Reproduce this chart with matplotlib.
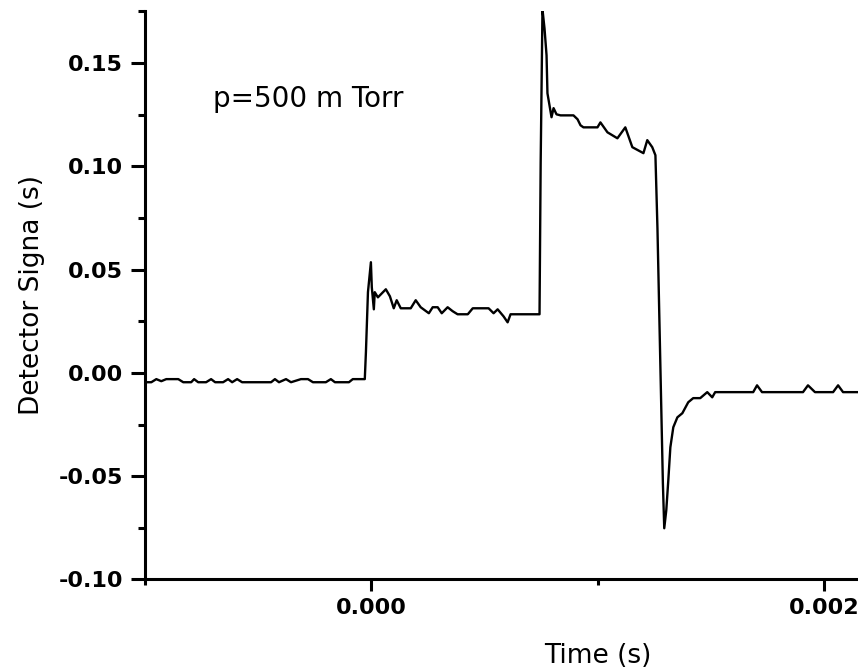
import matplotlib
matplotlib.use("Agg")
import matplotlib.pyplot as plt
import numpy as np
from matplotlib.ticker import FormatStrFormatter, MultipleLocator

# detector trace (time in ms, signal in arbitrary units)
time_ms = [
    -0.995, -0.972, -0.950, -0.928, -0.906, -0.853, -0.831, -0.796, -0.783, -0.765,
    -0.730, -0.708, -0.690, -0.655, -0.633, -0.615, -0.593, -0.571, -0.443, -0.426,
    -0.408, -0.377, -0.355, -0.311, -0.280, -0.258, -0.201, -0.179, -0.161, -0.099,
    -0.082, -0.029,
    -0.024, -0.015, -0.002, 0.002, 0.011, 0.015, 0.029, 0.064, 0.082, 0.099,
    0.112, 0.130, 0.174, 0.196, 0.218, 0.254, 0.271, 0.293, 0.311, 0.337,
    0.359, 0.381, 0.426, 0.448, 0.518, 0.540, 0.558, 0.584, 0.602, 0.615,
    0.743,
    0.748, 0.756, 0.765, 0.774, 0.778, 0.796, 0.805, 0.818, 0.836, 0.893,
    0.911, 0.924, 0.937, 0.999, 1.012, 1.043, 1.087, 1.122, 1.153, 1.202,
    1.219, 1.241, 1.255,
    1.264, 1.277, 1.288, 1.294, 1.303, 1.312, 1.321, 1.334, 1.352, 1.374,
    1.400, 1.422, 1.453, 1.484, 1.506, 1.519, 1.687, 1.704, 1.726, 1.907,
    1.929, 1.960, 2.040, 2.062, 2.084, 2.159,
]
signal = [
    -0.0045, -0.0045, -0.0030, -0.0040, -0.0030, -0.0030, -0.0045, -0.0045, -0.0030, -0.0045,
    -0.0045, -0.0030, -0.0045, -0.0045, -0.0030, -0.0045, -0.0030, -0.0045, -0.0045, -0.0030,
    -0.0045, -0.0030, -0.0045, -0.0030, -0.0030, -0.0045, -0.0045, -0.0030, -0.0045, -0.0045,
    -0.0030, -0.0030,
    0.0100, 0.0391, 0.0536, 0.0415, 0.0308, 0.0391, 0.0366, 0.0405, 0.0371, 0.0313,
    0.0352, 0.0313, 0.0313, 0.0352, 0.0318, 0.0289, 0.0318, 0.0318, 0.0289, 0.0318,
    0.0299, 0.0284, 0.0284, 0.0313, 0.0313, 0.0289, 0.0308, 0.0274, 0.0245, 0.0284,
    0.0284,
    0.1015, 0.1760, 0.1668, 0.1538, 0.1354, 0.1238, 0.1282, 0.1252, 0.1247, 0.1247,
    0.1228, 0.1199, 0.1189, 0.1189, 0.1213, 0.1165, 0.1136, 0.1189, 0.1093, 0.1064,
    0.1127, 0.1093, 0.1054,
    0.0700, 0.0028, -0.0534, -0.0752, -0.0665, -0.0519, -0.0360, -0.0263, -0.0215, -0.0195,
    -0.0142, -0.0122, -0.0122, -0.0093, -0.0118, -0.0093, -0.0093, -0.0060, -0.0093, -0.0093,
    -0.0060, -0.0093, -0.0093, -0.0060, -0.0093, -0.0093,
]

x_major = [0.000, 0.002]
y_major = [-0.10, -0.05, 0.00, 0.05, 0.10, 0.15]

plt.rcParams["axes.unicode_minus"] = False
plt.rcParams["font.family"] = ["DejaVu Sans"]

fig = plt.figure(figsize=(8.58, 6.71), dpi=100)
ax = fig.add_axes([0.169, 0.1364, 0.831, 0.8465])

t = np.array(time_ms) * 1e-3
ax.plot(t, signal, color="black", linewidth=1.7)

ax.set_xlim(-0.001, 0.00215)
ax.set_ylim(-0.10, 0.175)

ax.spines["top"].set_visible(False)
ax.spines["right"].set_visible(False)
for side in ("left", "bottom"):
    ax.spines[side].set_linewidth(2.2)

ax.set_xticks(x_major)
ax.set_yticks(y_major)
ax.xaxis.set_minor_locator(MultipleLocator(0.001))
ax.yaxis.set_minor_locator(MultipleLocator(0.025))
ax.xaxis.set_major_formatter(FormatStrFormatter("%.3f"))
ax.yaxis.set_major_formatter(FormatStrFormatter("%.2f"))

ax.tick_params(axis="y", which="major", direction="out", length=10, width=2.2, pad=6, labelsize=16)
ax.tick_params(axis="y", which="minor", direction="out", length=5, width=2.2)
ax.tick_params(axis="x", which="major", direction="out", length=8.5, width=2.2, pad=5, labelsize=16)
ax.tick_params(axis="x", which="minor", direction="out", length=4.5, width=2.2)
for lbl in ax.get_xticklabels() + ax.get_yticklabels():
    lbl.set_fontweight("bold")

ax.set_xlabel("Time (s)", fontsize=19)
ax.set_ylabel("Detector Signa (s)", fontsize=19)
ax.xaxis.set_label_coords(0.635, -0.111)
ax.yaxis.set_label_coords(-0.14, 0.5)

ax.text(0.0954, 0.832, "p=500 m Torr", transform=ax.transAxes,
        fontsize=20, ha="left", va="baseline")

fig.savefig("out.png", dpi=100)
